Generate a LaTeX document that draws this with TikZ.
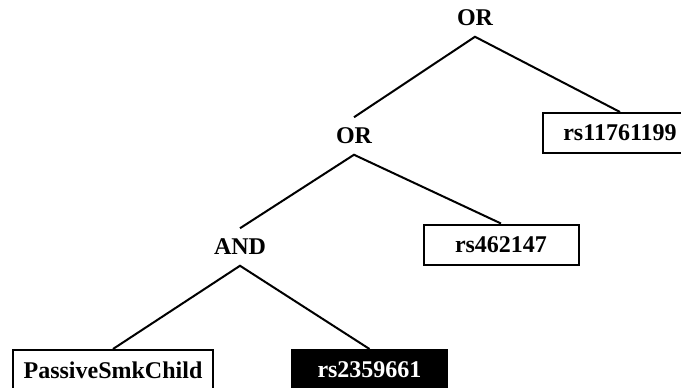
\documentclass[tikz,border=0pt]{standalone}
\usepackage{fontspec}
\setmainfont{Liberation Serif}
\usetikzlibrary{positioning}

\begin{document}
\begin{tikzpicture}[x=1pt, y=-1pt, line width=2pt,
  gate/.style={font=\fontsize{24}{28}\selectfont\bfseries, text height=15.5pt, text depth=0pt, inner xsep=2pt, inner ysep=10pt},
  leaf/.style={draw, font=\fontsize{24}{28}\selectfont\bfseries, minimum width=155pt, minimum height=40pt, inner xsep=11pt},
  snp/.style={leaf, fill=black, text=white}]
	\useasboundingbox (0,0) rectangle (681,388);
	
	%% gates
	\node[gate] (or1) at (475,18) {OR};
	\node[gate] (or2) at (354,136) {OR};
	\node[gate] (and) at (240,247) {AND};
	
	%% leaves
	\node[leaf] (rs1) at (620,133) {rs11761199};
	\node[leaf] (rs4) at (501,244.5) {rs462147};
	\node[leaf] (smk) at (113,370) {PassiveSmkChild};
	\node[snp] (rs2) at (369.5,370) {rs2359661};
	
	%% branches
	\draw (or2.north) -- (or1.south) -- (rs1.north);
	\draw (and.north) -- (or2.south) -- (rs4.north);
	\draw (smk.north) -- (and.south) -- (rs2.north);
\end{tikzpicture}
\end{document}
